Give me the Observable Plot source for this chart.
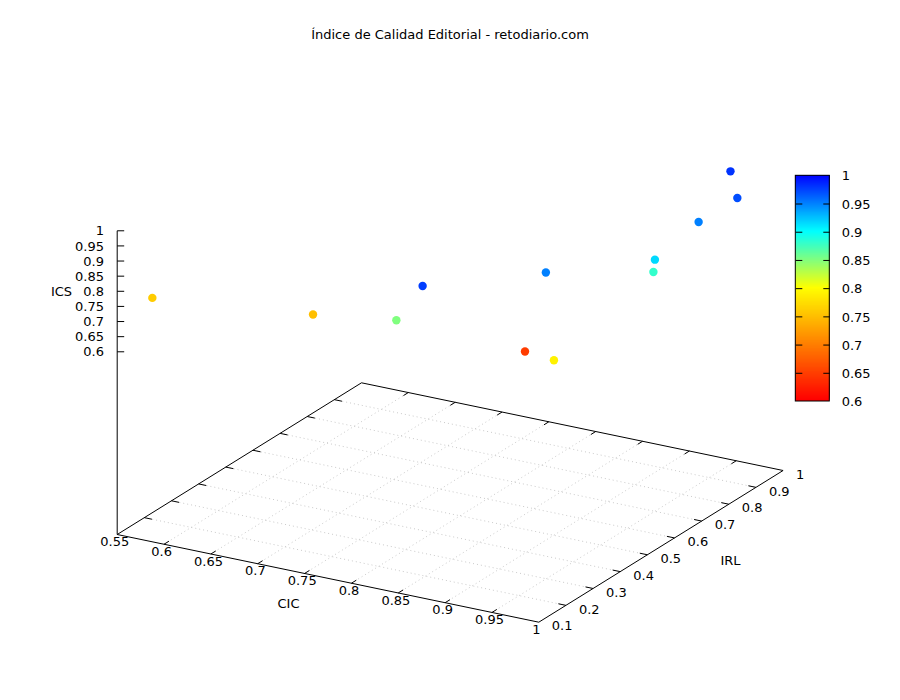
<!DOCTYPE html>
<html><head><meta charset="utf-8">
<script src="https://cdn.jsdelivr.net/npm/d3@7"></script>
<script src="https://cdn.jsdelivr.net/npm/@observablehq/plot@0.6"></script>
<style>
html,body{margin:0;padding:0;background:#fff}
#title{height:50px;width:900px;position:relative;font:13px "DejaVu Sans",sans-serif;color:#000;text-align:center;line-height:15px}
#title span{position:absolute;left:0;right:0;top:27px}
svg{display:block}
</style></head>
<body>
<div id="title"><span>Índice de Calidad Editorial - retodiario.com</span></div>
<div id="chart"></div>
<script>
const cic = [0.956,0.992,0.984,0.984,0.985,0.927,0.856,0.830,0.717,0.571,0.894,0.984];
const irl = [0.958,0.859,0.744,0.583,0.574,0.378,0.169,0.162,0.245,0.157,0.415,0.211];
const ics = [0.980,0.970,0.950,0.915,0.880,0.950,0.976,0.850,0.750,0.760,0.647,0.790];

const cicTicks = [0.55,0.6,0.65,0.7,0.75,0.8,0.85,0.9,0.95,1];
const irlTicks = [0.1,0.2,0.3,0.4,0.5,0.6,0.7,0.8,0.9,1];
const icsTicks = [0.6,0.65,0.7,0.75,0.8,0.85,0.9,0.95,1];
const barTicks = [0.6,0.65,0.7,0.75,0.8,0.85,0.9,0.95,1];
const paletteStops = [0.6,0.8,0.9,1];
const paletteColors = ["#ff0000","#ffff00","#00ffff","#0000ff"];

const O=[116.7,534], U=[421.6,87.7], V=[244.3,-151.7], zPerUnit=302.5;
const uOf=c=>(c-0.55)/0.45, vOf=i=>(i-0.1)/0.9;
const px=(c,i)=>O[0]+uOf(c)*U[0]+vOf(i)*V[0];
const py=(c,i,z=null)=>O[1]+uOf(c)*U[1]+vOf(i)*V[1]-(z==null?0:(z+0.004)*zPerUnit);
const zY=z=>py(0.55,0.1,z);
const barY=v=>401-(v-0.6)/0.4*225.7, barL=795.3, barR=829.3;

const points=cic.map((c,k)=>({x:px(c,irl[k]),y:py(c,irl[k],ics[k]),v:ics[k]}));
const levels=d3.range(0,226).map(k=>0.6+k*0.4/226);

const seg=(x1,y1,x2,y2)=>({x1,y1,x2,y2});
const grid=[
  ...cicTicks.slice(1,-1).map(c=>seg(px(c,0.1),py(c,0.1),px(c,1),py(c,1))),
  ...irlTicks.slice(1,-1).map(i=>seg(px(0.55,i),py(0.55,i),px(1,i),py(1,i)))
];
const border=[
  seg(px(.55,.1),py(.55,.1),px(1,.1),py(1,.1)),
  seg(px(1,.1),py(1,.1),px(1,1),py(1,1)),
  seg(px(1,1),py(1,1),px(.55,1),py(.55,1)),
  seg(px(.55,1),py(.55,1),px(.55,.1),py(.55,.1)),
  seg(O[0],O[1],O[0],zY(1))
];
const dv=0.02*0.9, dc=0.018*0.45;
const ticks=[
  ...cicTicks.slice(1,-1).flatMap(c=>[
    seg(px(c,.1),py(c,.1),px(c,.1+dv),py(c,.1+dv)),
    seg(px(c,1),py(c,1),px(c,1-dv),py(c,1-dv))]),
  ...irlTicks.slice(1,-1).flatMap(i=>[
    seg(px(.55,i),py(.55,i),px(.55+dc,i),py(.55+dc,i)),
    seg(px(1,i),py(1,i),px(1-dc,i),py(1-dc,i))]),
  ...icsTicks.map(z=>seg(O[0],zY(z),O[0]+7,zY(z)))
];
const fmt=d=>String(d);
const chart=Plot.plot({
  width:900,height:650,margin:0,
  style:{fontFamily:"'DejaVu Sans',sans-serif",fontSize:"13px",background:"#fff",color:"#000"},
  x:{domain:[0,900],range:[0,900],axis:null},
  y:{domain:[50,700],range:[0,650],axis:null},
  color:{type:"linear",domain:paletteStops,range:paletteColors,interpolate:"rgb"},
  marks:[
    Plot.link(grid,{x1:"x1",y1:"y1",x2:"x2",y2:"y2",stroke:"#bcbcbc",strokeWidth:0.8,strokeDasharray:"1 3"}),
    Plot.link(border,{x1:"x1",y1:"y1",x2:"x2",y2:"y2",stroke:"#000",strokeWidth:1}),
    Plot.link(ticks,{x1:"x1",y1:"y1",x2:"x2",y2:"y2",stroke:"#000",strokeWidth:1}),
    Plot.rect(levels,{x1:barL,x2:barR,y1:d=>barY(d),y2:barY(1),fill:d=>d}),
    Plot.rect([0],{x1:barL,x2:barR,y1:barY(0.6),y2:barY(1),fill:"none",stroke:"#000",strokeWidth:1}),
    Plot.link(barTicks.slice(1,-1).flatMap(v=>[seg(barL,barY(v),barL+6.5,barY(v)),seg(barR,barY(v),barR-6.5,barY(v))]),{x1:"x1",y1:"y1",x2:"x2",y2:"y2",stroke:"#000",strokeWidth:1}),
    Plot.dot(points,{x:"x",y:"y",r:4.2,fill:"v",stroke:null}),
    Plot.text(cicTicks,{x:d=>px(d,.1)-2.4,y:d=>py(d,.1)+7.4,text:fmt,fill:"#000",fontSize:13,lineAnchor:"middle"}),
    Plot.text(irlTicks,{x:d=>px(1,d)+13,y:d=>py(1,d)+4,text:fmt,fill:"#000",fontSize:13,textAnchor:"start",lineAnchor:"middle"}),
    Plot.text(icsTicks,{x:103.5,y:d=>zY(d)+0.5,text:fmt,fill:"#000",fontSize:13,textAnchor:"end",lineAnchor:"middle"}),
    Plot.text(barTicks,{x:841.2,y:d=>barY(d)+0.5,text:fmt,fill:"#000",fontSize:13,textAnchor:"start",lineAnchor:"middle"}),
    Plot.text(["ICS"],{x:61,y:291.5,text:d=>d,fill:"#000",fontSize:13,lineAnchor:"middle"}),
    Plot.text(["CIC"],{x:288,y:603.5,text:d=>d,fill:"#000",fontSize:13,lineAnchor:"middle"}),
    Plot.text(["IRL"],{x:730,y:560.5,text:d=>d,fill:"#000",fontSize:13,lineAnchor:"middle"})
  ]
});
document.getElementById("chart").append(chart);
</script>
</body></html>
